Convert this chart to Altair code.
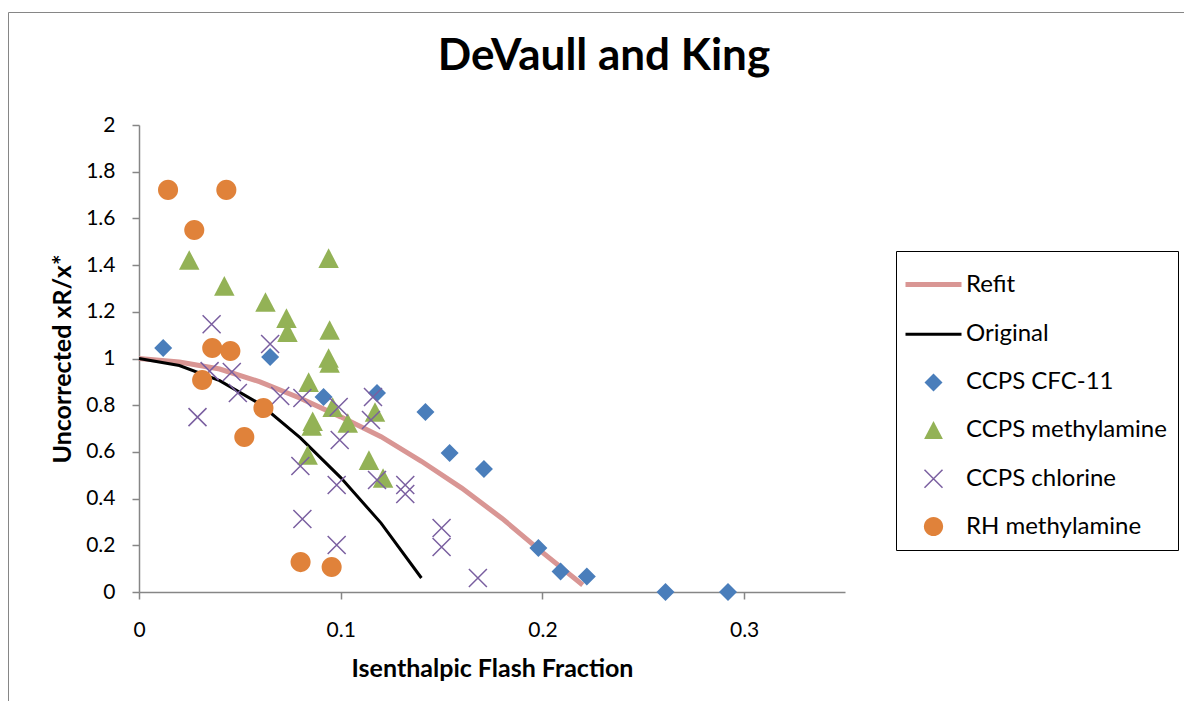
import altair as alt
import pandas as pd

# ---- data ----
SERIES = ["Refit", "Original", "CCPS CFC-11", "CCPS methylamine", "CCPS chlorine", "RH methylamine"]
FILLS = ["transparent", "transparent", "#4A7EBB", "#93B256", "transparent", "#E0823A"]
STROKES = ["#D99694", "#000000", "transparent", "transparent", "#7A5FA0", "transparent"]
WIDTHS = [5, 3, 0, 0, 1.5, 0]

refit_x = [0.0, 0.02, 0.04, 0.06, 0.08, 0.10, 0.12, 0.14, 0.16, 0.18, 0.20, 0.22]
refit_y = [1.0, 0.985, 0.955, 0.90, 0.83, 0.75, 0.665, 0.56, 0.445, 0.315, 0.17, 0.03]

orig_x = [0.0, 0.02, 0.04, 0.06, 0.08, 0.10, 0.12, 0.14]
orig_y = [1.0, 0.97, 0.905, 0.805, 0.66, 0.49, 0.295, 0.06]

cfc_x = [0.012, 0.065, 0.0915, 0.118, 0.142, 0.154, 0.171, 0.198, 0.209, 0.222, 0.261, 0.292]
cfc_y = [1.045, 1.006, 0.835, 0.852, 0.771, 0.595, 0.527, 0.188, 0.088, 0.066, 0.0, 0.0]

meth_x = [0.0249, 0.0423, 0.0627, 0.0731, 0.0736, 0.094, 0.0945, 0.094, 0.0945, 0.0841,
          0.096, 0.0861, 0.0856, 0.0836, 0.1035, 0.117, 0.114, 0.121]
meth_y = [1.422, 1.311, 1.242, 1.173, 1.113, 1.430, 1.122, 1.002, 0.981, 0.899,
          0.792, 0.731, 0.711, 0.587, 0.724, 0.771, 0.565, 0.488]

chl_x = [0.036, 0.065, 0.035, 0.046, 0.049, 0.070, 0.081, 0.029, 0.099, 0.116, 0.115,
         0.0995, 0.080, 0.098, 0.118, 0.132, 0.132, 0.081, 0.098, 0.150, 0.150, 0.168]
chl_y = [1.147, 1.062, 0.946, 0.942, 0.852, 0.839, 0.831, 0.749, 0.792, 0.835, 0.737,
         0.651, 0.540, 0.458, 0.480, 0.458, 0.420, 0.313, 0.201, 0.274, 0.193, 0.060]

rh_x = [0.0144, 0.0433, 0.0274, 0.0363, 0.0453, 0.0313, 0.0617, 0.0522, 0.0801, 0.0955]
rh_y = [1.722, 1.722, 1.550, 1.045, 1.032, 0.908, 0.788, 0.664, 0.128, 0.107]

x_ticks = [0, 0.1, 0.2, 0.3]
y_ticks = [0, 0.2, 0.4, 0.6, 0.8, 1, 1.2, 1.4, 1.6, 1.8, 2]

# ---- tables ----
def frame(name, xs, ys):
    return pd.DataFrame({"series": name, "x": xs, "y": ys, "idx": list(range(len(xs)))})

refit_df = frame("Refit", refit_x, refit_y)
orig_df = frame("Original", orig_x, orig_y)
cfc_df = frame("CCPS CFC-11", cfc_x, cfc_y)
meth_df = frame("CCPS methylamine", meth_x, meth_y)
chl_df = frame("CCPS chlorine", chl_x, chl_y)
rh_df = frame("RH methylamine", rh_x, rh_y)

FONT = "Lato"
LINE = "M-1.4,0L1.4,0"
DIAMOND = "M-0.45,0L0,-0.45L0.45,0L0,0.45Z"
TRIANGLE = "M0,-0.45L0.47,0.45L-0.47,0.45Z"
CROSS = "M-0.45,-0.45L0.45,0.45M0.45,-0.45L-0.45,0.45"
CIRCLE = "M0.48,0A0.48,0.48,0,1,1,-0.48,0A0.48,0.48,0,1,1,0.48,0Z"
SHAPES = [LINE, LINE, DIAMOND, TRIANGLE, CROSS, CIRCLE]

legend = alt.Legend(
    orient="none", legendX=757, legendY=126, title=None,
    strokeColor="#000000", fillColor="white", padding=11,
    symbolSize=1600, symbolOffset=4, labelOffset=10, rowPadding=15.7,
    labelFont=FONT, labelFontSize=24, labelColor="#000000", labelLimit=0, symbolOpacity=1,
)

fill = alt.Fill("series:N", scale=alt.Scale(domain=SERIES, range=FILLS), legend=legend)
stroke = alt.Stroke("series:N", scale=alt.Scale(domain=SERIES, range=STROKES), legend=legend)
swidth = alt.StrokeWidth("series:N", scale=alt.Scale(type="ordinal", domain=SERIES, range=WIDTHS),
                         legend=legend)
shape = alt.Shape("series:N", scale=alt.Scale(domain=SERIES, range=SHAPES), legend=legend)

x_enc = alt.X("x:Q", scale=alt.Scale(domain=[0, 0.35], nice=False),
              axis=alt.Axis(values=x_ticks, title="Isenthalpic Flash Fraction", format="~g",
                            titleX=353, titleY=76, titleBaseline="middle",
                            labelPadding=20, labelFlush=False))
y_enc = alt.Y("y:Q", scale=alt.Scale(domain=[0, 2], nice=False),
              axis=alt.Axis(values=y_ticks, title="Uncorrected xR/x*", format="~g",
                            titleX=-77, titleY=233.5, titleBaseline="middle",
                            labelPadding=17, labelFlush=False))

border = alt.Chart(alt.Data(values=[{"b": 1}])).mark_rect(
    fill="transparent", stroke="#868686", strokeWidth=1
).encode(x=alt.value(-130.5), x2=alt.value(1200), y=alt.value(-112.5), y2=alt.value(700))

def line(df):
    return alt.Chart(df).mark_line().encode(
        x=x_enc, y=y_enc, stroke=stroke, strokeWidth=swidth, order="idx:Q")

def pts(df, size):
    return alt.Chart(df).mark_point(filled=True, opacity=1, size=size).encode(
        x=x_enc, y=y_enc, fill=fill, stroke=stroke, strokeWidth=swidth, shape=shape)

chart = alt.layer(
    border,
    line(refit_df), line(orig_df),
    pts(cfc_df, 1600), pts(meth_df, 1900), pts(chl_df, 1600), pts(rh_df, 1750),
).properties(
    width=706, height=467,
    autosize=alt.AutoSizeParams(type="none"),
    padding={"left": 131, "top": 117, "right": 339, "bottom": 109},
    title=alt.TitleParams("DeVaull and King", font=FONT, fontSize=44, fontWeight="bold",
                          color="#000000", anchor="middle", frame="group", dx=112,
                          offset=-111, baseline="bottom"),
).configure_view(stroke=None).configure_axis(
    grid=False, domainColor="#868686", domainWidth=1.5, tickColor="#868686", tickWidth=1.5,
    tickSize=7, labelFont=FONT, labelFontSize=21, labelColor="#000000",
    titleFont=FONT, titleFontSize=25, titleFontWeight="bold", titleColor="#000000",
)

chart.save("out.html", embed_options={"renderer": "svg", "actions": False})
